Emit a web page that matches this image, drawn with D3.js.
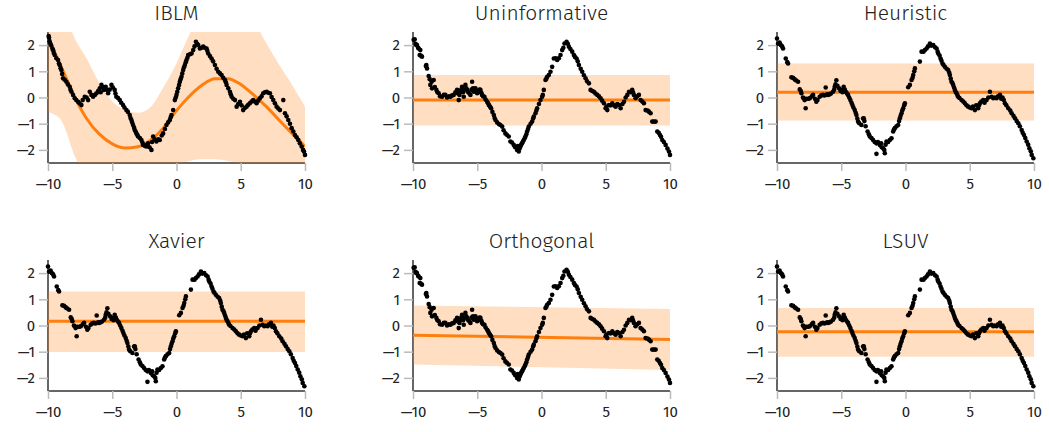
<!DOCTYPE html>
<html>
<head>
<meta charset="utf-8">
<script src="https://cdn.jsdelivr.net/npm/d3@7"></script>
<style>
  body { margin: 0; background: #fff; }
  text { font-family: "Fira Sans", "Noto Sans", sans-serif; fill: #222; }
</style>
</head>
<body>
<div id="chart"></div>
<script>
// panel titles, in reading order
var titles = ["IBLM", "Uninformative", "Heuristic", "Xavier", "Orthogonal", "LSUV"];
var xTicks = [-10, -5, 0, 5, 10];
var yTicks = [-2, -1, 0, 1, 2];

var ptsIBLM = [[-9.95,2.35],[-9.92,2.29],[-9.88,2.15],[-9.82,2.06],[-9.75,1.98],[-9.66,1.87],[-9.6,1.8],[-9.55,1.7],[-9.48,1.62],[-9.35,1.5],[-9.22,1.43],[-9.15,1.3],[-9.09,1.24],[-9.02,1.12],[-8.96,1.05],[-8.9,0.9],[-8.83,0.73],[-8.7,0.68],[-8.57,0.6],[-8.45,0.5],[-8.31,0.41],[-8.25,0.3],[-8.18,0.22],[-8.05,0.1],[-7.92,-0.03],[-7.8,-0.1],[-7.66,-0.16],[-7.55,-0.22],[-7.4,-0.29],[-7.3,-0.1],[-7.14,0.03],[-7.0,0.0],[-6.88,-0.1],[-6.75,0.22],[-6.62,0.1],[-6.49,0.03],[-6.35,0.1],[-6.23,0.16],[-6.1,0.25],[-5.97,0.35],[-5.9,0.2],[-5.84,0.48],[-5.75,0.4],[-5.66,0.29],[-5.6,0.35],[-5.51,0.41],[-5.45,0.3],[-5.32,0.16],[-5.2,0.3],[-5.06,0.48],[-4.95,0.38],[-4.81,0.29],[-4.75,0.15],[-4.68,0.03],[-4.55,-0.02],[-4.42,-0.1],[-4.3,-0.2],[-4.16,-0.29],[-4.05,-0.38],[-3.9,-0.48],[-3.78,-0.55],[-3.64,-0.67],[-3.58,-0.78],[-3.51,-0.86],[-3.45,-0.95],[-3.38,-1.05],[-3.3,-1.15],[-3.25,-1.24],[-3.18,-1.3],[-3.12,-1.37],[-3.05,-1.42],[-2.99,-1.49],[-2.85,-1.55],[-2.73,-1.62],[-2.65,-1.72],[-2.6,-1.81],[-2.45,-1.85],[-2.34,-1.87],[-2.28,-1.8],[-2.21,-1.75],[-2.1,-1.9],[-1.95,-2.0],[-1.9,-1.7],[-1.82,-1.49],[-1.7,-1.6],[-1.56,-1.68],[-1.42,-1.6],[-1.3,-1.62],[-1.15,-1.45],[-1.04,-1.37],[-0.9,-1.2],[-0.78,-1.05],[-0.65,-0.95],[-0.52,-0.86],[-0.45,-0.75],[-0.39,-0.67],[-0.26,-0.48],[-0.13,-0.1],[-0.06,0.0],[0.0,0.1],[0.06,0.22],[0.13,0.35],[0.2,0.48],[0.26,0.6],[0.32,0.7],[0.39,0.79],[0.45,0.92],[0.52,1.05],[0.58,1.15],[0.65,1.24],[0.72,1.35],[0.78,1.43],[0.85,1.52],[0.91,1.62],[1.05,1.65],[1.17,1.68],[1.3,1.81],[1.4,1.95],[1.51,2.13],[1.6,2.05],[1.69,2.0],[1.82,1.87],[1.95,1.9],[2.08,1.94],[2.2,1.9],[2.34,1.87],[2.4,1.78],[2.47,1.68],[2.6,1.58],[2.73,1.49],[2.85,1.38],[2.99,1.24],[3.12,1.1],[3.25,0.98],[3.38,0.92],[3.51,0.86],[3.64,0.75],[3.77,0.67],[3.84,0.58],[3.9,0.48],[4.03,0.35],[4.16,0.22],[4.22,0.12],[4.29,0.03],[4.42,-0.05],[4.55,-0.1],[4.68,-0.35],[4.8,-0.25],[4.94,-0.16],[5.06,-0.3],[5.19,-0.48],[5.32,-0.4],[5.45,-0.35],[5.58,-0.28],[5.71,-0.22],[5.84,-0.15],[5.97,-0.1],[6.1,-0.15],[6.23,-0.22],[6.36,-0.12],[6.49,-0.03],[6.62,0.05],[6.75,0.16],[6.88,0.2],[7.01,0.22],[7.14,0.18],[7.27,0.16],[7.4,0.02],[7.53,-0.1],[7.66,-0.22],[7.79,-0.35],[7.92,-0.42],[8.05,-0.48],[8.31,-0.1],[8.44,-0.6],[8.57,-0.72],[8.7,-0.86],[8.83,-1.0],[8.96,-1.17],[9.09,-1.3],[9.22,-1.43],[9.35,-1.52],[9.48,-1.62],[9.6,-1.75],[9.74,-1.87],[9.85,-2.0],[9.92,-2.06],[10.0,-2.19]];

var ptsA = [[-9.95,2.2],[-9.87,2.22],[-9.8,2.05],[-9.75,2.0],[-9.69,2.0],[-9.6,1.9],[-9.56,1.87],[-9.43,1.81],[-9.48,1.62],[-9.4,1.6],[-9.3,1.56],[-9.0,1.2],[-8.96,1.24],[-8.91,1.11],[-8.78,0.82],[-8.7,0.7],[-8.65,0.48],[-8.55,0.6],[-8.39,0.67],[-8.52,0.35],[-8.3,0.4],[-8.18,0.29],[-8.1,0.2],[-8.0,0.16],[-7.9,0.05],[-7.74,0.03],[-7.6,0.1],[-7.48,0.1],[-7.35,0.0],[-7.2,0.05],[-7.09,0.03],[-6.95,0.08],[-6.83,0.1],[-6.7,0.2],[-6.57,0.29],[-6.5,0.15],[-6.44,-0.1],[-6.38,0.1],[-6.31,0.22],[-6.25,0.3],[-6.18,0.41],[-6.1,0.2],[-6.05,0.03],[-5.98,0.3],[-5.92,0.48],[-5.85,0.35],[-5.79,0.29],[-5.7,0.2],[-5.6,0.15],[-5.53,0.1],[-5.45,0.3],[-5.4,0.6],[-5.33,0.35],[-5.27,0.22],[-5.2,0.3],[-5.14,0.35],[-5.08,0.25],[-5.01,0.16],[-4.9,0.2],[-4.82,0.3],[-4.75,0.29],[-4.68,0.18],[-4.62,0.1],[-4.55,0.05],[-4.44,0.03],[-4.35,-0.08],[-4.23,-0.16],[-4.15,-0.22],[-4.1,-0.29],[-4.0,-0.35],[-3.92,-0.41],[-3.82,-0.55],[-3.71,-0.67],[-3.65,-0.78],[-3.58,-0.86],[-3.45,-0.95],[-3.32,-1.01],[-3.2,-1.05],[-3.06,-1.11],[-2.95,-1.25],[-2.81,-1.37],[-2.7,-1.42],[-2.55,-1.49],[-2.42,-1.68],[-2.3,-1.72],[-2.16,-1.81],[-2.05,-1.9],[-1.9,-2.0],[-1.85,-1.85],[-1.77,-2.06],[-1.7,-1.95],[-1.64,-1.87],[-1.58,-1.8],[-1.51,-1.75],[-1.45,-1.68],[-1.38,-1.62],[-1.3,-1.55],[-1.25,-1.49],[-1.18,-1.4],[-1.12,-1.3],[-1.05,-1.2],[-0.99,-1.11],[-0.85,-1.0],[-0.73,-0.92],[-0.65,-0.8],[-0.6,-0.73],[-0.47,-0.6],[-0.4,-0.5],[-0.34,-0.41],[-0.2,-0.25],[-0.08,-0.1],[0.05,0.03],[0.1,0.1],[0.18,0.29],[0.31,0.67],[0.38,0.72],[0.44,0.79],[0.57,0.86],[0.7,0.98],[0.83,1.17],[0.96,1.49],[1.1,1.5],[1.22,1.43],[1.35,1.5],[1.48,1.62],[1.61,1.81],[1.7,1.9],[1.79,2.06],[1.95,2.13],[2.05,2.05],[2.13,1.94],[2.25,1.85],[2.39,1.75],[2.52,1.62],[2.6,1.55],[2.73,1.49],[2.82,1.38],[2.91,1.24],[3.05,1.1],[3.17,0.98],[3.3,0.85],[3.43,0.73],[3.55,0.62],[3.69,0.54],[3.82,0.29],[3.95,0.25],[4.08,0.22],[4.2,0.15],[4.34,0.1],[4.47,0.05],[4.6,-0.03],[4.72,-0.12],[4.86,-0.22],[4.99,-0.41],[5.05,-0.35],[5.12,-0.48],[5.25,-0.29],[5.38,-0.3],[5.51,-0.22],[5.64,-0.3],[5.77,-0.35],[5.9,-0.25],[6.03,-0.29],[6.16,-0.41],[6.3,-0.25],[6.42,-0.16],[6.55,0.0],[6.68,0.1],[6.81,0.22],[6.95,0.2],[7.06,0.29],[7.12,0.2],[7.19,0.1],[7.32,-0.03],[7.45,0.05],[7.58,0.1],[7.71,-0.1],[7.85,-0.15],[7.97,-0.22],[8.1,-0.48],[8.25,-0.5],[8.36,-0.54],[8.49,-0.6],[8.62,-0.92],[8.75,-0.92],[8.88,-0.92],[9.01,-1.3],[9.12,-1.35],[9.22,-1.43],[9.3,-1.5],[9.4,-1.62],[9.52,-1.7],[9.66,-1.81],[9.8,-1.95],[9.92,-2.06],[10.0,-2.19]];

var ptsB = [[-10,2.25],[-9.92,2.05],[-9.8,2.1],[-9.7,2.0],[-9.6,1.95],[-9.53,1.87],[-9.32,1.49],[-9.2,1.35],[-9.14,1.3],[-8.88,0.77],[-8.75,0.75],[-8.62,0.69],[-8.5,0.65],[-8.36,0.6],[-8.23,0.31],[-8.15,0.25],[-8.1,0.16],[-7.98,0.0],[-7.92,-0.03],[-7.85,-0.1],[-7.77,-0.41],[-7.7,-0.05],[-7.55,-0.05],[-7.45,-0.03],[-7.3,0.05],[-7.19,0.1],[-7.05,-0.05],[-6.94,-0.16],[-6.85,-0.1],[-6.68,0.03],[-6.55,0.08],[-6.42,0.1],[-6.3,0.08],[-6.21,0.38],[-6.1,0.12],[-6.03,0.1],[-5.9,0.12],[-5.8,0.15],[-5.64,0.22],[-5.55,0.3],[-5.51,0.41],[-5.45,0.5],[-5.38,0.66],[-5.3,0.45],[-5.17,0.35],[-5.05,0.25],[-4.99,0.29],[-4.9,0.2],[-4.81,0.41],[-4.72,0.3],[-4.65,0.22],[-4.55,0.15],[-4.47,0.1],[-4.38,0.0],[-4.29,-0.1],[-4.2,-0.2],[-4.13,-0.29],[-4.05,-0.38],[-3.95,-0.48],[-3.88,-0.58],[-3.82,-0.67],[-3.75,-0.8],[-3.69,-0.92],[-3.6,-0.98],[-3.43,-1.05],[-3.3,-0.8],[-3.25,-0.79],[-3.2,-0.9],[-3.1,-1.1],[-2.95,-1.3],[-2.85,-1.4],[-2.78,-1.49],[-2.65,-1.55],[-2.52,-1.62],[-2.4,-1.7],[-2.26,-1.75],[-2.26,-2.15],[-2.15,-1.7],[-2.0,-1.81],[-1.9,-1.75],[-1.85,-1.9],[-1.74,-1.94],[-1.65,-2.0],[-1.61,-2.13],[-1.55,-1.8],[-1.48,-1.68],[-1.35,-1.7],[-1.22,-1.62],[-1.09,-1.56],[-0.96,-1.3],[-0.9,-1.22],[-0.83,-1.17],[-0.7,-1.1],[-0.57,-1.05],[-0.5,-0.9],[-0.44,-0.79],[-0.38,-0.7],[-0.31,-0.6],[-0.25,-0.5],[-0.18,-0.41],[-0.1,-0.3],[-0.05,-0.22],[0.21,0.39],[0.34,0.48],[0.47,0.67],[0.55,0.75],[0.6,0.86],[0.68,1.0],[0.73,1.11],[1.12,1.37],[1.25,1.75],[1.4,1.75],[1.51,1.81],[1.64,1.87],[1.75,1.95],[1.9,2.06],[2.0,1.98],[2.16,2.0],[2.3,1.92],[2.42,1.87],[2.5,1.75],[2.55,1.68],[2.65,1.6],[2.73,1.49],[2.8,1.4],[2.88,1.3],[2.95,1.25],[3.06,1.17],[3.2,1.1],[3.32,1.05],[3.4,0.95],[3.45,0.86],[3.52,0.72],[3.58,0.6],[3.65,0.55],[3.71,0.48],[3.78,0.38],[3.84,0.29],[3.9,0.22],[3.97,0.16],[4.05,0.08],[4.1,0.03],[4.2,-0.02],[4.36,-0.1],[4.5,-0.15],[4.62,-0.22],[4.75,-0.3],[4.88,-0.35],[5.0,-0.38],[5.14,-0.41],[5.25,-0.35],[5.4,-0.48],[5.5,-0.3],[5.66,-0.41],[5.72,-0.3],[5.79,-0.22],[5.9,-0.15],[6.05,-0.1],[6.15,-0.2],[6.31,-0.1],[6.45,0.0],[6.57,0.22],[6.7,0.03],[6.83,-0.03],[6.95,0.0],[7.09,-0.03],[7.2,0.05],[7.35,0.1],[7.45,-0.05],[7.55,0.0],[7.65,-0.1],[7.74,-0.22],[7.85,-0.3],[8.0,-0.41],[8.15,-0.5],[8.26,-0.6],[8.4,-0.7],[8.52,-0.79],[8.65,-0.9],[8.78,-0.98],[8.9,-1.1],[9.04,-1.24],[9.12,-1.35],[9.22,-1.43],[9.32,-1.55],[9.43,-1.68],[9.55,-1.8],[9.64,-1.94],[9.75,-2.05],[9.82,-2.19],[9.95,-2.32]];

// which sample each panel shows
var panelPts = [ptsIBLM, ptsA, ptsB, ptsB, ptsA, ptsB];

// IBLM predictive mean and band
var iblmX     = [-10, -9.5, -9, -8.5, -8, -7, -6, -5, -4, -3, -2, -1, 0, 1, 2, 3, 4, 5, 6, 7, 8, 9, 10];
var iblmMean  = [2.3, 1.75, 1.2, 0.65, 0.1, -0.8, -1.4, -1.77, -1.93, -1.88, -1.62, -1.15, -0.5, 0.05, 0.48, 0.72, 0.72, 0.5, 0.1, -0.35, -0.87, -1.38, -1.87];
var iblmUpper = [5.0, 4.2, 3.6, 3.0, 2.35, 1.5, 0.55, -0.15, -0.48, -0.58, -0.35, 0.4, 1.3, 2.4, 3.3, 3.7, 3.7, 3.4, 2.9, 2.06, 1.24, 0.48, -0.35];
var iblmLower = [-0.55, -0.65, -0.85, -1.4, -2.15, -2.9, -3.2, -3.4, -3.4, -3.3, -3.1, -2.8, -2.56, -2.42, -2.36, -2.36, -2.42, -2.51, -2.7, -2.9, -3.1, -3.3, -3.4];

// the other five: straight fits, value at x=-10 and x=10
var flatX     = [-10, 10];
var flatMean  = [[-0.1, -0.1], [0.2, 0.2], [0.16, 0.16], [-0.37, -0.53], [-0.24, -0.24]];
var flatUpper = [[0.86, 0.86], [1.3, 1.3], [1.3, 1.3], [0.76, 0.63], [0.67, 0.67]];
var flatLower = [[-1.07, -1.07], [-0.88, -0.88], [-1.01, -1.01], [-1.49, -1.70], [-1.19, -1.19]];

var W = 1049, H = 432;
var colLeft = [48, 413, 777];
var rowTop = [32, 260];
var pw = 257, ph = 131;

var svg = d3.select("#chart").append("svg")
    .attr("width", W)
    .attr("height", H);

var defs = svg.append("defs");

titles.forEach(function(title, i) {
    var col = i % 3, row = Math.floor(i / 3);
    var g = svg.append("g")
        .attr("transform", "translate(" + colLeft[col] + "," + rowTop[row] + ")");

    var x = d3.scaleLinear().domain([-10, 10]).range([0, pw]);
    var y = d3.scaleLinear().domain([-2.5, 2.5]).range([ph, 0]);

    // clip for band and fit
    defs.append("clipPath").attr("id", "clip" + i)
        .append("rect").attr("x", 0).attr("y", 0).attr("width", pw).attr("height", ph);

    // title
    g.append("text")
        .attr("x", pw / 2)
        .attr("y", -12)
        .attr("text-anchor", "middle")
        .attr("font-size", "21px")
        .attr("font-weight", 300)
        .text(title);

    // axes
    var fmt = function(d) { return d < 0 ? "\u2014" + Math.abs(d) : d; };
    var xAxis = g.append("g").attr("transform", "translate(0," + ph + ")")
        .call(d3.axisBottom(x).tickValues(xTicks).tickSize(8).tickPadding(7).tickFormat(fmt));
    var yAxis = g.append("g")
        .call(d3.axisLeft(y).tickValues(yTicks).tickSize(9).tickPadding(4).tickFormat(fmt));
    [xAxis, yAxis].forEach(function(a) {
        a.select(".domain").attr("stroke", "#666").attr("stroke-width", 2);
        a.selectAll(".tick line").attr("stroke", "#bbb").attr("stroke-width", 1.5);
        a.selectAll(".tick text").attr("font-size", "15px").attr("fill", "#222")
            .attr("font-weight", 400)
            .attr("font-family", "'Fira Sans', 'Noto Sans', sans-serif");
    });
    xAxis.select(".domain").attr("d", "M0,0H" + pw);
    yAxis.select(".domain").attr("d", "M0,0V" + ph);

    // band + mean
    var bx, bm, bu, bl;
    if (i === 0) {
        bx = iblmX; bm = iblmMean; bu = iblmUpper; bl = iblmLower;
    } else {
        bx = flatX; bm = flatMean[i - 1]; bu = flatUpper[i - 1]; bl = flatLower[i - 1];
    }
    var band = bx.map(function(v, k) { return {x: v, m: bm[k], u: bu[k], l: bl[k]}; });

    var area = d3.area()
        .x(function(d) { return x(d.x); })
        .y0(function(d) { return y(d.l); })
        .y1(function(d) { return y(d.u); })
        .curve(d3.curveMonotoneX);
    var line = d3.line()
        .x(function(d) { return x(d.x); })
        .y(function(d) { return y(d.m); })
        .curve(d3.curveMonotoneX);

    var fit = g.append("g").attr("clip-path", "url(#clip" + i + ")");
    fit.append("path").datum(band)
        .attr("d", area)
        .attr("fill", "#ff7f0e")
        .attr("fill-opacity", 0.26);
    fit.append("path").datum(band)
        .attr("d", line)
        .attr("fill", "none")
        .attr("stroke", "#ff7f0e")
        .attr("stroke-width", 3);

    // observations
    g.selectAll("circle.pt").data(panelPts[i]).enter()
        .append("circle")
        .attr("class", "pt")
        .attr("cx", function(d) { return x(d[0]); })
        .attr("cy", function(d) { return y(d[1]); })
        .attr("r", 2.3)
        .attr("fill", "#000");
});
</script>
</body>
</html>
